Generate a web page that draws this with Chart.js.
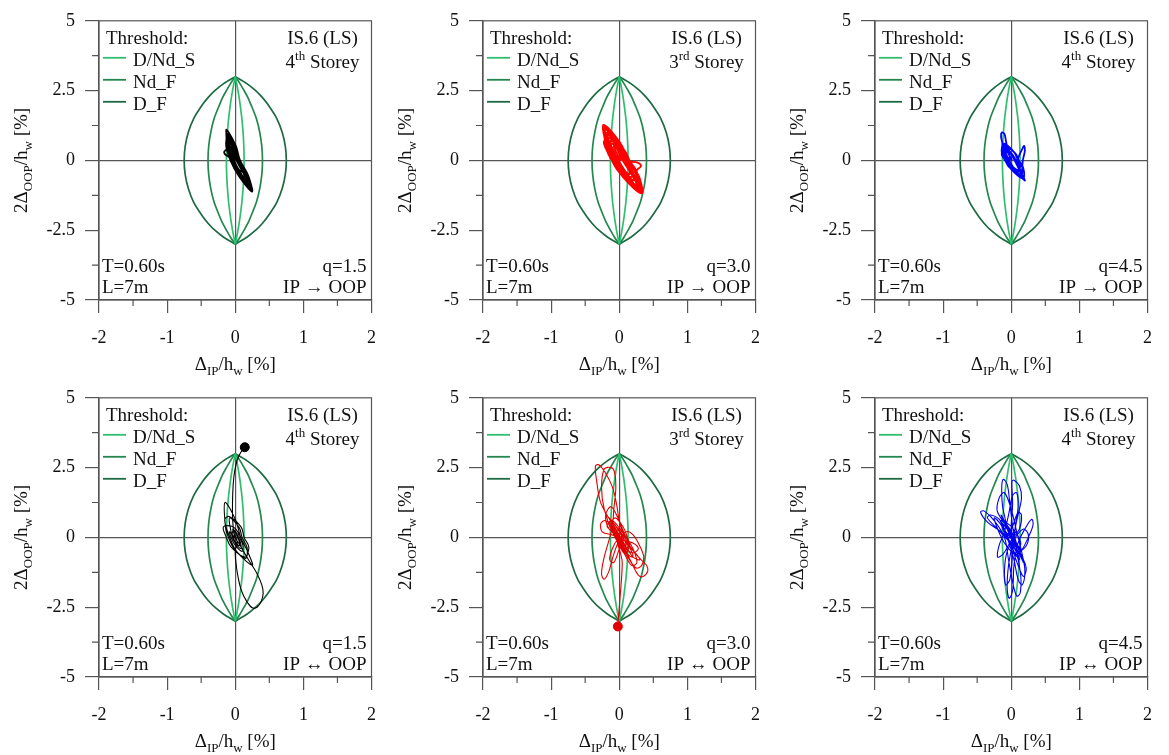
<!DOCTYPE html>
<html>
<head>
<meta charset="utf-8">
<script src="https://cdn.jsdelivr.net/npm/chart.js@4.4.0/dist/chart.umd.min.js"></script>
<style>
body { margin: 0; background: #fff; }
#wrap { position: relative; width: 1169px; height: 755px; overflow: hidden; }
#wrap canvas { position: absolute; }
</style>
</head>
<body>
<div id="wrap"></div>
<script>
// threshold lenses: half widths (IP drift) at each OOP level
const yLevels  = [3, 2.75, 2.5, 2.25, 2, 1.5, 1, 0.5, 0, -0.5, -1, -1.5, -2, -2.25, -2.5, -2.75, -3];
const halfDF   = [0, 0.17, 0.30, 0.40, 0.48, 0.61, 0.69, 0.735, 0.75, 0.735, 0.69, 0.61, 0.48, 0.40, 0.30, 0.17, 0];
const halfNdF  = [0, 0.07, 0.13, 0.186, 0.23, 0.31, 0.36, 0.39, 0.40, 0.39, 0.36, 0.31, 0.23, 0.186, 0.13, 0.07, 0];
const halfDNdS = [0, 0.021, 0.04, 0.057, 0.072, 0.097, 0.115, 0.126, 0.13, 0.126, 0.115, 0.097, 0.072, 0.057, 0.04, 0.021, 0];

// response trajectories [IP, OOP] in %, row 1 (IP -> OOP)
const trajA1 = [[0,0],[-0.048,0.4],[0.006,0.2],[0.03,0],[0.074,-0.2],[0.088,-0.4],[0.014,-0.2],[-0.03,0],[-0.054,0.2],
  [-0.096,0.8],[0.012,0.4],[0.06,0],[0.159,-0.45],[0.198,-0.9],[0.039,-0.45],[-0.06,0],[-0.108,0.4],
  [-0.126,1.05],[0.007,0.525],[0.07,0],[0.191,-0.55],[0.242,-1.1],[0.051,-0.55],[-0.07,0],[-0.133,0.525],
  [-0.108,0.9],[-0.014,0.45],[0.04,0],[0.15,-0.5],[0.22,-1.0],[0.07,-0.5],[-0.04,0],[-0.094,0.45],
  [-0.132,1.1],[-0.001,0.55],[0.065,0],[0.188,-0.56],[0.246,-1.12],[0.058,-0.56],[-0.065,0],[-0.131,0.55],
  [-0.084,0.7],[0.008,0.35],[0.05,0],[0.138,-0.4],[0.176,-0.8],[0.038,-0.4],[-0.05,0],[-0.092,0.35],
  [-0.114,0.95],[-0.037,0.475],[0.02,0],[0.136,-0.525],[0.231,-1.05],[0.096,-0.525],[-0.02,0],[-0.077,0.475],
  [-0.072,0.6],[0.019,0.3],[0.055,0],[0.132,-0.35],[0.154,-0.7],[0.022,-0.35],[-0.055,0],[-0.091,0.3],
  [-0.102,0.85],[-0.016,0.425],[0.035,0],[0.14,-0.475],[0.209,-0.95],[0.07,-0.475],[-0.035,0],[-0.086,0.425],
  [-0.16,0.32],[-0.15,0.22],[-0.05,0.1],
  [-0.06,0.5],[0.015,0.25],[0.045,0],[0.111,-0.3],[0.132,-0.6],[0.021,-0.3],[-0.045,0],[-0.075,0.25],[0,0]];

const trajA2 = [[0.02,0],[-0.08,0.5],[0.02,0.25],[0.07,0],[0.135,-0.25],[0.15,-0.5],[0.035,-0.25],[-0.03,0],[-0.08,0.25],
  [-0.18,1.0],[0.02,0.5],[0.12,0],[0.25,-0.5],[0.28,-1.0],[0.05,-0.5],[-0.08,0],[-0.18,0.5],
  [-0.234,1.27],[0.013,0.635],[0.14,0],[0.293,-0.59],[0.327,-1.18],[0.053,-0.59],[-0.10,0],[-0.227,0.635],
  [-0.14,0.8],[0.01,0.4],[0.09,0],[0.207,-0.45],[0.254,-0.9],[0.067,-0.45],[-0.05,0],[-0.13,0.4],
  [-0.21,1.15],[0.015,0.575],[0.13,0],[0.273,-0.55],[0.306,-1.1],[0.053,-0.55],[-0.09,0],[-0.205,0.575],
  [-0.16,0.9],[0.02,0.45],[0.11,0],[0.27,-0.08],[0.32,-0.2],[0.26,-0.35],[0.24,-0.6],[0.202,-0.7],[0.021,-0.35],[-0.07,0],[-0.16,0.45],
  [-0.2,1.1],[-0.04,0.55],[0.07,0],[0.207,-0.525],[0.293,-1.05],[0.107,-0.525],[-0.03,0],[-0.14,0.55],
  [-0.12,0.7],[0.08,0.35],[0.15,0],[0.26,-0.425],[0.241,-0.85],[0.0,-0.425],[-0.11,0],[-0.18,0.35],
  [-0.22,1.2],[-0.07,0.6],[0.05,0],[0.2,-0.575],[0.319,-1.15],[0.14,-0.575],[-0.01,0],[-0.13,0.6],
  [-0.1,0.6],[0.04,0.3],[0.10,0],[0.178,-0.3],[0.176,-0.6],[0.018,-0.3],[-0.06,0],[-0.12,0.3],
  [-0.17,0.95],[0.025,0.475],[0.12,0],[0.244,-0.475],[0.267,-0.95],[0.044,-0.475],[-0.08,0],[-0.175,0.475],[0.02,0]];

const trajA3 = [[0.01,0],[-0.07,0.4],[0.02,0.2],[0.06,0],[0.11,-0.2],[0.11,-0.4],[0.01,-0.2],[-0.04,0],[-0.08,0.2],
  [-0.11,0.6],[0.04,0.3],[0.10,0],[0.181,-0.325],[0.172,-0.65],[0.001,-0.325],[-0.08,0],[-0.14,0.3],
  [-0.13,0.6],[-0.15,0.85],[-0.14,1.0],[-0.1,0.95],[-0.07,0.6],[-0.02,0.3],[0.05,0],[0.12,-0.35],[0.2,-0.72],[0.15,-0.6],[0.03,-0.3],[-0.06,0],[-0.12,0.3],
  [-0.1,0.55],[0.0,0.25],[0.08,0],[0.12,0.2],[0.17,0.45],[0.19,0.52],[0.2,0.35],[0.17,0.0],[0.16,-0.3],[0.147,-0.55],[0.02,-0.3],[-0.06,0],[-0.12,0.25],
  [-0.08,0.45],[0.005,0.225],[0.05,0],[0.125,-0.3],[0.16,-0.6],[0.045,-0.3],[-0.03,0],[-0.075,0.225],
  [-0.09,0.5],[0.06,0.25],[0.11,0],[0.173,-0.25],[0.135,-0.5],[-0.027,-0.25],[-0.09,0],[-0.14,0.25],
  [-0.05,0.3],[0.03,0.15],[0.07,0],[0.13,-0.175],[0.1,-0.35],[0.0,-0.175],[-0.05,0],[-0.08,0.15],[0.01,0]];

// row 2 (IP <-> OOP)
const trajB1 = [[0,0],[-0.036,0.3],[0.022,0.15],[0.04,0],[0.08,-0.2],[0.08,-0.4],[0.0,-0.2],[-0.04,0],[-0.058,0.15],
  [-0.084,0.7],[0.058,0.35],[0.1,0],[0.175,-0.375],[0.15,-0.75],[-0.025,-0.375],[-0.1,0],[-0.142,0.35],
  [-0.15,1.25],[0.005,0.625],[0.08,0],[0.18,-0.5],[0.25,-1.0],[0.02,-0.5],[-0.08,0],[-0.155,0.625],
  [-0.09,0.75],[0.085,0.375],[0.13,0],[0.2,-0.35],[0.14,-0.7],[-0.06,-0.35],[-0.13,0],[-0.175,0.375],
  [-0.048,0.4],[0.036,0.2],[0.06,0],[0.11,-0.25],[0.1,-0.5],[-0.01,-0.25],[-0.06,0],[-0.084,0.2],
  [0.05,-0.2],[0.12,-0.5],[0.22,-0.9],[0.32,-1.3],[0.39,-1.7],[0.41,-2.0],[0.38,-2.3],[0.32,-2.5],[0.25,-2.52],
  [0.17,-2.3],[0.09,-1.9],[0.04,-1.4],[0.01,-0.9],[0.0,-0.45],[0.03,-0.2],
  [-0.03,0.25],[0.015,0.125],[0.03,0],[0.06,-0.15],[0.06,-0.3],[0.0,-0.15],[-0.03,0],[-0.045,0.125],
  [-0.03,0.3],[-0.04,0.7],[-0.04,1.3],[-0.03,1.9],[-0.01,2.35],[0.03,2.78],[0.08,3.04],[0.14,3.23]];

const trajB2 = [[0,0],[0.06,-0.2],[0.12,-0.5],[0.08,-0.6],[-0.04,-0.1],[-0.12,0.3],[-0.16,0.55],[-0.08,0.5],[0.05,0.0],[0.16,-0.4],[0.2,-0.7],[0.12,-0.6],[0.0,-0.1],[-0.1,0.35],
  [0.08,-0.30],[-0.05,0.30],[-0.15,0.70],[-0.05,0.40],[0.10,-0.20],[0.25,-0.60],[0.30,-0.80],[0.20,-0.70],[0.02,0.00],
  [-0.18,0.80],[-0.28,1.30],[-0.33,2.00],[-0.35,2.55],[-0.30,2.60],[-0.20,2.30],[-0.10,1.80],[-0.04,1.20],[0.00,0.60],[0.06,0.10],
  [0.18,-0.40],[0.32,-0.80],[0.40,-1.00],[0.42,-1.20],[0.35,-1.40],[0.28,-1.35],[0.20,-1.00],[0.08,-0.40],[-0.05,0.25],
  [-0.20,0.60],[-0.27,0.50],[-0.25,0.20],[-0.12,0.10],[0.05,-0.10],[0.20,-0.20],[0.28,-0.40],[0.20,-0.55],[0.05,-0.30],
  [-0.10,0.20],[-0.22,1.00],[-0.26,1.80],[-0.22,2.45],[-0.12,2.50],[-0.07,2.35],[-0.05,1.80],[-0.08,1.00],[-0.10,0.40],
  [-0.15,-0.10],[-0.22,-0.70],[-0.26,-1.30],[-0.22,-1.50],[-0.15,-1.20],[-0.08,-0.60],[0.00,-0.10],[0.10,0.20],[0.20,0.10],
  [0.30,-0.30],[0.36,-0.70],[0.33,-1.00],[0.25,-1.10],[0.15,-0.80],[0.05,-0.40],[-0.05,0.00],[-0.12,0.45],[-0.06,0.70],
  [0.05,0.40],[0.12,0.00],[0.15,-0.30],[0.10,-0.50],[0.0,-0.2],[-0.08,0.2],[-0.03,0.35],[0.06,0.0],[0.1,-0.3],[0.04,-0.25],[-0.02,0.1],
  [-0.15,0.3],[-0.2,0.8],[-0.12,1.1],[-0.02,0.7],[0.08,0.1],[0.2,-0.4],[0.26,-0.9],[0.18,-1.0],[0.06,-0.5],[-0.06,0.1],
  [-0.18,0.4],[-0.1,0.6],[0.04,0.2],[0.14,-0.2],[0.1,-0.4],[-0.02,-0.1],[-0.1,-0.4],[-0.14,-0.8],[-0.08,-0.9],[0.0,-0.4],
  [0.06,0.1],[0.0,0.3],[-0.05,0.1],
  [0.04,-0.80],[0.04,-1.20],[0.03,-1.60],[0.01,-2.20],[-0.01,-2.80],[-0.02,-3.19]];

const trajB3 = [[0,0],[0.05,-0.30],[-0.08,0.40],[-0.15,0.80],[-0.05,0.35],[0.10,-0.40],[0.18,-0.90],[0.12,-0.60],[-0.02,0.10],
  [-0.12,1.00],[-0.14,1.70],[-0.12,2.08],[-0.06,1.90],[-0.02,1.20],[0.02,0.40],[0.08,-0.50],[0.14,-1.40],[0.13,-2.00],[0.08,-2.10],
  [0.02,-1.60],[-0.04,-0.80],[-0.10,0.00],[-0.25,0.60],[-0.40,0.95],[-0.45,0.90],[-0.35,0.55],[-0.15,0.20],[0.00,-0.20],[0.10,-0.60],
  [0.05,-0.40],[0.00,0.30],[0.02,1.20],[0.01,2.00],[0.04,2.05],[0.12,1.85],[0.15,1.40],[0.08,0.60],[0.02,-0.20],[-0.04,-1.00],
  [-0.06,-1.80],[-0.03,-2.18],[0.02,-1.90],[0.04,-1.00],[0.10,-0.20],[0.20,0.30],[0.30,0.65],[0.32,0.45],[0.25,0.00],[0.14,-0.50],
  [0.05,-0.60],[-0.10,-0.20],[-0.20,0.30],[-0.25,0.70],[-0.18,0.55],[-0.05,0.10],[0.08,-0.30],[0.16,-0.70],[0.22,-1.10],[0.18,-1.40],
  [0.10,-1.00],[0.00,-0.30],[-0.10,0.30],[-0.16,0.60],[-0.08,0.50],[0.05,0.00],[0.10,-0.40],
  [0.14,-0.2],[0.06,0.2],[-0.06,0.5],[-0.12,0.3],[-0.04,-0.1],[0.08,-0.5],[0.12,-0.8],[0.06,-0.6],[-0.02,-0.2],[-0.1,0.15],
  [-0.14,0.5],[-0.06,0.3],[0.04,-0.1],[0.15,-0.5],[0.1,-0.3],[0.0,0.1],[-0.08,0.1],[0.0,-0.2],[0.06,-0.05],
  [-0.2,0.9],[-0.18,1.4],[-0.1,1.6],[0.0,1.0],[0.08,0.2],[0.16,-0.6],[0.2,-1.2],[0.16,-1.7],[0.1,-1.5],[0.04,-0.8],
  [-0.06,0.0],[-0.16,0.6],[-0.3,0.8],[-0.35,0.7],[-0.22,0.35],[-0.05,-0.1],[0.1,-0.5],[0.22,-0.3],[0.25,0.1],[0.18,0.3],
  [0.06,0.0],[-0.06,-0.5],[-0.1,-1.2],[-0.08,-1.7],[-0.02,-1.5],[0.02,-0.6],[0.06,0.4],[0.1,1.1],[0.08,1.6],[0.02,1.5],
  [-0.04,0.8],[-0.1,0.2],[-0.18,-0.3],[-0.2,-0.7],[-0.12,-0.6],[0.0,-0.1],[0.12,0.3],[0.15,0.8],[0.1,0.9],[0.02,0.4],[-0.06,0.0],[0,0]];

// collapse markers (null = none)
const dotX = [null, null, null, 0.14, -0.02, null];
const dotY = [null, null, null, 3.23, -3.19, null];

const trajectories = [trajA1, trajA2, trajA3, trajB1, trajB2, trajB3];

const storeyNum = ['4', '3', '4', '4', '3', '4'];
const storeySup = ['th', 'rd', 'th', 'th', 'rd', 'th'];
const qValues = ['1.5', '3.0', '4.5', '1.5', '3.0', '4.5'];
const directions = ['IP \u2192 OOP', 'IP \u2192 OOP', 'IP \u2192 OOP', 'IP \u2194 OOP', 'IP \u2194 OOP', 'IP \u2194 OOP'];
const thresholdNames = ['D/Nd_S', 'Nd_F', 'D_F'];
const minorX = [-1.5, -0.5, 0.5, 1.5];
const minorY = [-3.75, -1.25, 1.25, 3.75];

const lineColors = ['#000000', '#ff0000', '#0000ff', '#000000', '#e00000', '#0000ee'];
const lineWidths = [1.8, 1.8, 1.8, 1.1, 1.1, 1.1];
const greens = ['#30be6e', '#23874f', '#1d6a42'];
const axisColor = '#555555';
const FONT = '"Liberation Serif", "Times New Roman", serif';

Chart.defaults.font.family = FONT;
Chart.defaults.color = '#111';

const plotLefts = [99, 483, 875];
const plotTops = [15, 392];

function richText(ctx, parts, x, y, align) {
  const fontOf = k => (k === 0 ? '19px ' : '13px ') + FONT;
  let w = 0;
  parts.forEach(p => { ctx.font = fontOf(p[1]); w += ctx.measureText(p[0]).width; });
  let cx = align === 'center' ? x - w / 2 : align === 'right' ? x - w : x;
  ctx.textAlign = 'left';
  ctx.textBaseline = 'alphabetic';
  parts.forEach(p => {
    ctx.font = fontOf(p[1]);
    const dy = p[1] === 1 ? 5 : p[1] === 2 ? -8 : 0;
    ctx.fillText(p[0], cx, y + dy);
    cx += ctx.measureText(p[0]).width;
  });
}

function lens(half, sign) {
  return yLevels.map((y, i) => ({ x: sign * half[i], y: y }));
}

function makePanel(i) {
  const col = i % 3, row = Math.floor(i / 3);
  const cv = document.createElement('canvas');
  cv.width = 390; cv.height = 377;
  cv.style.left = (plotLefts[col] - 99) + 'px';
  cv.style.top = (plotTops[row] - 15) + 'px';
  document.getElementById('wrap').appendChild(cv);

  const datasets = [];
  if (dotX[i] !== null) {
    datasets.push({ data: [{ x: dotX[i], y: dotY[i] }], showLine: false, pointRadius: 4.5,
      pointBackgroundColor: lineColors[i], pointBorderColor: lineColors[i] });
  }
  datasets.push({
    data: trajectories[i].map(p => ({ x: p[0], y: p[1] })),
    showLine: true, pointRadius: 0, borderColor: lineColors[i], borderWidth: lineWidths[i], tension: 0.35
  });
  [halfDNdS, halfNdF, halfDF].forEach((half, g) => {
    [1, -1].forEach(s => {
      datasets.push({ data: lens(half, s), showLine: true, pointRadius: 0,
        borderColor: greens[g], borderWidth: 1.7, tension: 0.25 });
    });
  });

  const panelText = {
    id: 'panelText',
    afterDraw(chart) {
      const ctx = chart.ctx, a = chart.chartArea;
      const xs = chart.scales.x, ys = chart.scales.y;
      ctx.save();
      ctx.strokeStyle = axisColor;
      ctx.lineWidth = 1.2;
      ctx.strokeRect(a.left, a.top, a.right - a.left, a.bottom - a.top);
      ctx.beginPath();
      minorX.forEach(v => { const p = xs.getPixelForValue(v); ctx.moveTo(p, a.bottom); ctx.lineTo(p, a.bottom + 6); });
      minorY.forEach(v => { const p = ys.getPixelForValue(v); ctx.moveTo(a.left, p); ctx.lineTo(a.left - 7, p); });
      ctx.stroke();

      ctx.fillStyle = '#111';
      richText(ctx, [['Threshold:', 0]], a.left + 7, a.top + 23, 'left');
      thresholdNames.forEach((n, g) => {
        const yl = a.top + 37 + g * 22;
        ctx.strokeStyle = greens[g];
        ctx.lineWidth = 1.8;
        ctx.beginPath(); ctx.moveTo(a.left + 4, yl); ctx.lineTo(a.left + 27, yl); ctx.stroke();
        richText(ctx, [[n, 0]], a.left + 34, yl + 8, 'left');
      });
      richText(ctx, [['IS.6 (LS)', 0]], a.right - 49, a.top + 23, 'center');
      richText(ctx, [[storeyNum[i], 0], [storeySup[i], 2], [' Storey', 0]], a.right - 49, a.top + 47, 'center');
      richText(ctx, [['T=0.60s', 0]], a.left + 3, a.bottom - 28, 'left');
      richText(ctx, [['L=7m', 0]], a.left + 3, a.bottom - 7, 'left');
      richText(ctx, [['q=' + qValues[i], 0]], a.right - 5, a.bottom - 28, 'right');
      richText(ctx, [[directions[i], 0]], a.right - 5, a.bottom - 7, 'right');

      richText(ctx, [['\u0394', 0], ['IP', 1], ['/h', 0], ['w', 1], [' [%]', 0]], (a.left + a.right) / 2, a.bottom + 70, 'center');
      ctx.translate(a.left - 72, (a.top + a.bottom) / 2);
      ctx.rotate(-Math.PI / 2);
      richText(ctx, [['2\u0394', 0], ['OOP', 1], ['/h', 0], ['w', 1], [' [%]', 0]], 0, 0, 'center');
      ctx.restore();
    }
  };

  const isMajorY = v => Math.abs(v / 2.5 - Math.round(v / 2.5)) < 1e-6;

  new Chart(cv, {
    type: 'scatter',
    data: { datasets: datasets },
    options: {
      responsive: false,
      animation: false,
      layout: { padding: { left: 0, top: 15, right: 7, bottom: 0 } },
      plugins: { legend: { display: false }, tooltip: { enabled: false } },
      scales: {
        x: {
          type: 'linear', min: -2, max: 2,
          afterFit: s => { s.height = 77; },
          ticks: { stepSize: 0.5, autoSkip: false, maxRotation: 0, padding: 14, color: '#111', font: { size: 18 },
            callback: v => Number.isInteger(v) ? String(v) : '' },
          grid: {
            color: c => (c.tick && c.tick.value === 0) ? axisColor : 'rgba(0,0,0,0)',
            tickColor: c => (c.tick && Number.isInteger(c.tick.value)) ? axisColor : 'rgba(0,0,0,0)',
            tickLength: 13, lineWidth: 1.2
          },
          border: { display: true, color: axisColor, width: 1.2 }
        },
        y: {
          type: 'linear', min: -5, max: 5,
          afterFit: s => { s.width = 99; },
          ticks: { stepSize: 1.25, autoSkip: false, padding: 10, color: '#111', font: { size: 18 },
            callback: v => isMajorY(v) ? String(v) : '' },
          grid: {
            color: c => (c.tick && c.tick.value === 0) ? axisColor : 'rgba(0,0,0,0)',
            tickColor: c => (c.tick && isMajorY(c.tick.value)) ? axisColor : 'rgba(0,0,0,0)',
            tickLength: 14, lineWidth: 1.2
          },
          border: { display: true, color: axisColor, width: 1.2 }
        }
      }
    },
    plugins: [panelText]
  });
}

for (let i = 0; i < 6; i++) makePanel(i);
</script>
</body>
</html>
